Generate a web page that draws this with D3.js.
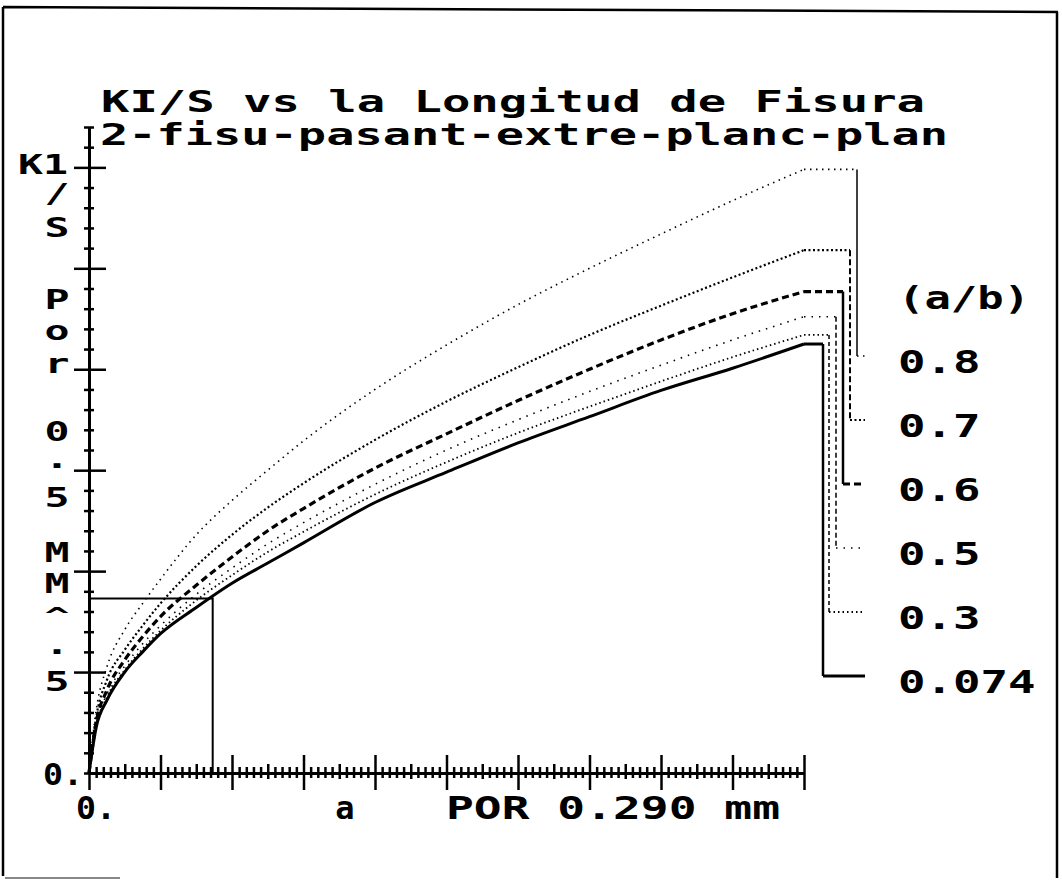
<!DOCTYPE html>
<html>
<head>
<meta charset="utf-8">
<script src="https://cdn.jsdelivr.net/npm/d3@7"></script>
<style>
  body { margin: 0; background: #fff; }
  svg text { font-family: "DejaVu Sans Mono", monospace; font-weight: bold; fill: #000; }
</style>
</head>
<body>
<div id="chart"></div>
<script>
// crack length (in units of 0.290 mm) where each curve was read
var aPoints = [0, 0.1, 0.25, 0.5, 0.75, 1, 1.5, 2, 2.5, 3, 4, 5, 6, 7, 8, 9, 10];

// KI/S, one list per a/b ratio
var ratios = ["0.8", "0.7", "0.6", "0.5", "0.3", "0.074"];
var k08  = [0, 0.62, 1.05, 1.42, 1.68, 1.92, 2.36, 2.70, 3.00, 3.29, 3.80, 4.24, 4.64, 5.00, 5.34, 5.67, 5.98];
var k07  = [0, 0.55, 0.92, 1.22, 1.46, 1.68, 2.05, 2.36, 2.63, 2.87, 3.30, 3.68, 4.02, 4.34, 4.63, 4.91, 5.18];
var k06  = [0, 0.50, 0.82, 1.12, 1.35, 1.55, 1.86, 2.14, 2.40, 2.62, 3.02, 3.36, 3.69, 4.00, 4.29, 4.55, 4.77];
var k05  = [0, 0.48, 0.78, 1.06, 1.28, 1.46, 1.77, 2.03, 2.27, 2.48, 2.86, 3.20, 3.50, 3.78, 4.04, 4.29, 4.52];
var k03  = [0, 0.46, 0.75, 1.02, 1.23, 1.41, 1.71, 1.96, 2.19, 2.39, 2.76, 3.08, 3.37, 3.63, 3.88, 4.12, 4.34];
var k0074 = [0, 0.45, 0.72, 1.00, 1.20, 1.38, 1.64, 1.88, 2.08, 2.28, 2.68, 2.98, 3.27, 3.53, 3.79, 4.01, 4.25];
var series = [k08, k07, k06, k05, k03, k0074];

// cursor drawn on the 0.074 curve
var cursorA = 1.73, cursorK = 1.73;

// texts
var title1 = "KI/S vs la Longitud de Fisura";
var title2 = "2-fisu-pasant-extre-planc-plan";
var yLabelChars = ["K1", "/", "S", "P", "o", "r", "0", ".", "5", "M", "M", "^", ".", "5"];
var xLabelA = "a";
var xLabelUnit = "POR 0.290 mm";
var originLabel = "0.";
var legendTitle = "(a/b)";

// line styles per series (0.8 ... 0.074)
var dashes  = ["1.5,4.5", "2,2.5", "7,4", "1.5,6", "1.5,3", null];
var widths  = [1.6, 2.2, 3.2, 1.6, 1.8, 3];
var leadDash = [null, "6,3", null, "5,3", "4,3", null];
var leadW   = [1.5, 2, 2.5, 1.5, 1.5, 2.5];
var leadX   = [857, 850, 843, 836, 829, 823];
// baselines and sizes of the stacked y label characters
var yLabelBase = [174, 203, 237, 309, 340, 373, 441, 468, 507, 562, 593, 623, 654, 691];
var yLabelSize = [26, 26, 26, 26, 26, 26, 26, 26, 26, 26, 26, 22, 26, 26];

var W = 1062, H = 880;
var svg = d3.select("#chart").append("svg")
  .attr("width", W)
  .attr("height", H);

// outer frame, as scanned
svg.append("path")
  .attr("d", "M3,7 L1058,12 M3,7 L3,876 M1057,12 L1057,878")
  .attr("fill", "none").attr("stroke", "#000").attr("stroke-width", 2.5);
svg.append("line")
  .attr("x1", 5).attr("x2", 120).attr("y1", 878).attr("y2", 878)
  .attr("stroke", "#888").attr("stroke-width", 2);

var x = d3.scaleLinear().domain([0, 10]).range([89, 804]);
var y = d3.scaleLinear().domain([0, 6.4]).range([773, 127]);

// x axis with ticks crossing the line
var xTickVals = d3.range(0, 101).map(function(i) { return i / 10; });
var xAxis = svg.append("g")
  .attr("transform", "translate(0," + y(0) + ")")
  .call(d3.axisBottom(x).tickValues(xTickVals).tickFormat("").tickSizeOuter(0));
xAxis.select(".domain").attr("stroke-width", 3);
xAxis.selectAll(".tick line")
  .attr("stroke-width", 2.5)
  .attr("y1", function(d, i) { return i % 10 == 0 ? -18 : (i % 5 == 0 ? -9 : -6); })
  .attr("y2", function(d, i) { return i % 10 == 0 ? 17 : (i % 5 == 0 ? 6 : 5); });

// y axis
var yTickVals = d3.range(0, 33).map(function(i) { return i / 5; });
var yAxis = svg.append("g")
  .attr("transform", "translate(" + x(0) + ",0)")
  .call(d3.axisLeft(y).tickValues(yTickVals).tickFormat("").tickSizeOuter(0));
yAxis.select(".domain").attr("stroke-width", 3);
yAxis.selectAll(".tick line")
  .attr("stroke-width", 2.5)
  .attr("x1", function(d, i) { return i % 5 == 0 && i > 0 ? -15 : -5; })
  .attr("x2", function(d, i) { return i % 5 == 0 && i > 0 ? 17 : 5; });

// cursor box
svg.append("path")
  .attr("d", "M" + x(0) + "," + y(cursorK) + "H" + x(cursorA) + "V" + y(0))
  .attr("fill", "none").attr("stroke", "#000").attr("stroke-width", 2);

// curves
var line = d3.line()
  .x(function(d) { return x(d[0]); })
  .y(function(d) { return y(d[1]); })
  .curve(d3.curveMonotoneX);

var legendY = function(i) { return 298 + 64 * (i + 1); };

series.forEach(function(vals, i) {
  var pts = aPoints.map(function(a, j) { return [a, vals[j]]; });
  svg.append("path")
    .datum(pts)
    .attr("d", line)
    .attr("fill", "none")
    .attr("stroke", "#000")
    .attr("stroke-width", widths[i])
    .attr("stroke-dasharray", dashes[i]);

  // flat run-out then leader down to the label
  var endX = x(aPoints[aPoints.length - 1]), endY = y(vals[vals.length - 1]);
  var ly = legendY(i) - 6;
  svg.append("path")
    .attr("d", "M" + endX + "," + endY + "H" + leadX[i])
    .attr("fill", "none").attr("stroke", "#000")
    .attr("stroke-width", widths[i]).attr("stroke-dasharray", dashes[i]);
  svg.append("path")
    .attr("d", "M" + leadX[i] + "," + endY + "V" + ly)
    .attr("fill", "none").attr("stroke", "#000")
    .attr("stroke-width", leadW[i]).attr("stroke-dasharray", leadDash[i]);
  svg.append("path")
    .attr("d", "M" + leadX[i] + "," + ly + "H865")
    .attr("fill", "none").attr("stroke", "#000")
    .attr("stroke-width", widths[i]).attr("stroke-dasharray", dashes[i]);

  svg.append("text")
    .attr("x", 898)
    .attr("y", legendY(i) + 11)
    .attr("font-size", 32)
    .attr("textLength", ratios[i].length * 27.5)
    .attr("lengthAdjust", "spacingAndGlyphs")
    .text(ratios[i]);
});

// legend title
svg.append("text")
  .attr("x", 898).attr("y", 298 + 11)
  .attr("font-size", 32)
  .attr("textLength", 132).attr("lengthAdjust", "spacingAndGlyphs")
  .text(legendTitle);

// titles
svg.append("text")
  .attr("x", 101).attr("y", 112)
  .attr("font-size", 30)
  .attr("textLength", 824).attr("lengthAdjust", "spacingAndGlyphs")
  .text(title1);
svg.append("text")
  .attr("x", 100).attr("y", 145)
  .attr("font-size", 30)
  .attr("textLength", 848).attr("lengthAdjust", "spacingAndGlyphs")
  .text(title2);

// vertical y label, one character per row
yLabelChars.forEach(function(c, i) {
  svg.append("text")
    .attr("x", c.length > 1 ? 68 : 57)
    .attr("y", yLabelBase[i])
    .attr("font-size", yLabelSize[i])
    .attr("text-anchor", c.length > 1 ? "end" : "middle")
    .attr("textLength", c.length * 25)
    .attr("lengthAdjust", "spacingAndGlyphs")
    .text(c);
});

// origin labels
svg.append("text")
  .attr("x", 43).attr("y", y(0) + 12)
  .attr("font-size", 30)
  .attr("textLength", 40).attr("lengthAdjust", "spacingAndGlyphs")
  .text(originLabel);
svg.append("text")
  .attr("x", 76).attr("y", 819)
  .attr("font-size", 32)
  .attr("textLength", 40).attr("lengthAdjust", "spacingAndGlyphs")
  .text(originLabel);

// x axis label
svg.append("text")
  .attr("x", 345).attr("y", 819)
  .attr("font-size", 32)
  .attr("text-anchor", "middle")
  .text(xLabelA);
svg.append("text")
  .attr("x", 446).attr("y", 819)
  .attr("font-size", 32)
  .attr("textLength", 334).attr("lengthAdjust", "spacingAndGlyphs")
  .text(xLabelUnit);
</script>
</body>
</html>
